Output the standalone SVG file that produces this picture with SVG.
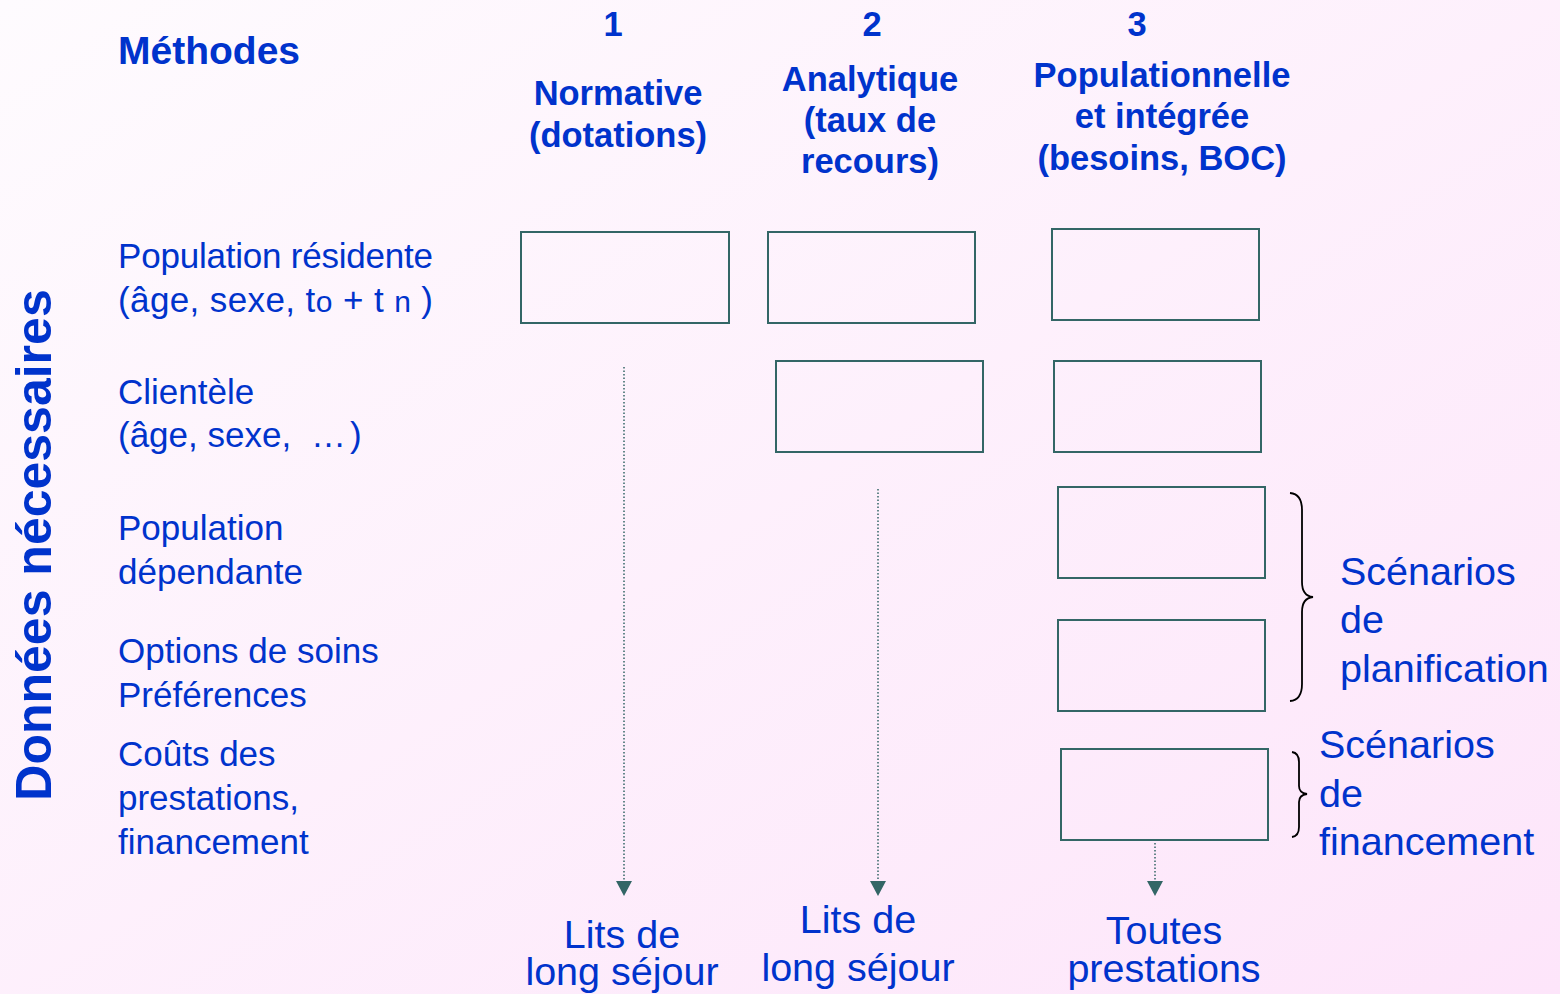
<svg xmlns="http://www.w3.org/2000/svg" width="1560" height="994" viewBox="0 0 1560 994">
<defs>
<linearGradient id="bg" x1="0" y1="0" x2="1" y2="1">
<stop offset="0" stop-color="#fefbfe"/>
<stop offset="1" stop-color="#fde5fa"/>
</linearGradient>
<style>
.t{font-family:"Liberation Sans",Arial,sans-serif;fill:#0033cc}
.b{font-weight:bold}
.h{font-size:34.5px;font-weight:bold;text-anchor:middle}
.l{font-size:35px}
.s{font-size:39.5px}
.m{text-anchor:middle}
.box{fill:none;stroke:#336666;stroke-width:2}
.dot{fill:none;stroke:#336666;stroke-width:1.5;stroke-dasharray:1.5 2}
.head{fill:#336666}
.brace{fill:none;stroke:#000;stroke-width:1.8}
</style>
</defs>
<rect width="1560" height="994" fill="url(#bg)"/>

<g id="headers">
<text class="t b" x="118" y="64" font-size="39">Méthodes</text>
<text class="t h" x="613" y="36">1</text>
<text class="t h" x="872" y="36">2</text>
<text class="t h" x="1137" y="36">3</text>
<text class="t h" x="618" y="105">Normative</text>
<text class="t h" x="618" y="147">(dotations)</text>
<text class="t h" x="870" y="91">Analytique</text>
<text class="t h" x="870" y="132">(taux de</text>
<text class="t h" x="870" y="173">recours)</text>
<text class="t h" x="1162" y="87">Populationnelle</text>
<text class="t h" x="1162" y="128">et intégrée</text>
<text class="t h" x="1162" y="170">(besoins, BOC)</text>
<text class="t b" font-size="50" text-anchor="middle" transform="translate(51 545) rotate(-90)">Données nécessaires</text>
</g>

<g id="row-labels">
<text class="t l" x="118" y="268" textLength="315" lengthAdjust="spacing">Population résidente</text>
<text class="t l" x="118" y="312" textLength="315" lengthAdjust="spacing">(âge, sexe, t<tspan font-size="30">o</tspan> + t <tspan font-size="30">n</tspan> )</text>
<text class="t l" x="118" y="404">Clientèle</text>
<text class="t l" x="118" y="447">(âge, sexe, <tspan dx="10">…</tspan><tspan dx="4">)</tspan></text>
<text class="t l" x="118" y="540">Population</text>
<text class="t l" x="118" y="584">dépendante</text>
<text class="t l" x="118" y="663">Options de soins</text>
<text class="t l" x="118" y="707">Préférences</text>
<text class="t l" x="118" y="766">Coûts des</text>
<text class="t l" x="118" y="810">prestations,</text>
<text class="t l" x="118" y="854">financement</text>
</g>

<g id="box-1-1"><rect class="box" x="521" y="232" width="208" height="91"/></g>
<g id="box-2-1"><rect class="box" x="768" y="232" width="207" height="91"/></g>
<g id="box-3-1"><rect class="box" x="1052" y="229" width="207" height="91"/></g>
<g id="box-2-2"><rect class="box" x="776" y="361" width="207" height="91"/></g>
<g id="box-3-2"><rect class="box" x="1054" y="361" width="207" height="91"/></g>
<g id="box-3-3"><rect class="box" x="1058" y="487" width="207" height="91"/></g>
<g id="box-3-4"><rect class="box" x="1058" y="620" width="207" height="91"/></g>
<g id="box-3-5"><rect class="box" x="1061" y="749" width="207" height="91"/></g>

<g id="connectors">
<line class="dot" x1="624" y1="367" x2="624" y2="882"/>
<path class="head" d="M616,881 L632,881 L624,896 Z"/>
<line class="dot" x1="878" y1="489" x2="878" y2="882"/>
<path class="head" d="M870,881 L886,881 L878,896 Z"/>
<line class="dot" x1="1155" y1="843" x2="1155" y2="882"/>
<path class="head" d="M1147,881 L1163,881 L1155,896 Z"/>
</g>

<g id="brace-planification">
<path class="brace" d="M1290,493 Q1302,494 1302,510 L1302,582 Q1302,596 1313,597 Q1302,598 1302,612 L1302,684 Q1302,700 1290,701"/>
<text class="t s" x="1340" y="585">Scénarios</text>
<text class="t s" x="1340" y="633">de</text>
<text class="t s" x="1340" y="682">planification</text>
</g>

<g id="brace-financement">
<path class="brace" d="M1292,752 Q1299,753 1299,762 L1299,786 Q1299,793 1307,794 Q1299,795 1299,802 L1299,827 Q1299,836 1292,837"/>
<text class="t s" x="1319" y="758">Scénarios</text>
<text class="t s" x="1319" y="807">de</text>
<text class="t s" x="1319" y="855">financement</text>
</g>

<g id="outputs">
<text class="t s m" x="622" y="948">Lits de</text>
<text class="t s m" x="622" y="985">long séjour</text>
<text class="t s m" x="858" y="933">Lits de</text>
<text class="t s m" x="858" y="981">long séjour</text>
<text class="t s m" x="1164" y="944">Toutes</text>
<text class="t s m" x="1164" y="982">prestations</text>
</g>
</svg>
